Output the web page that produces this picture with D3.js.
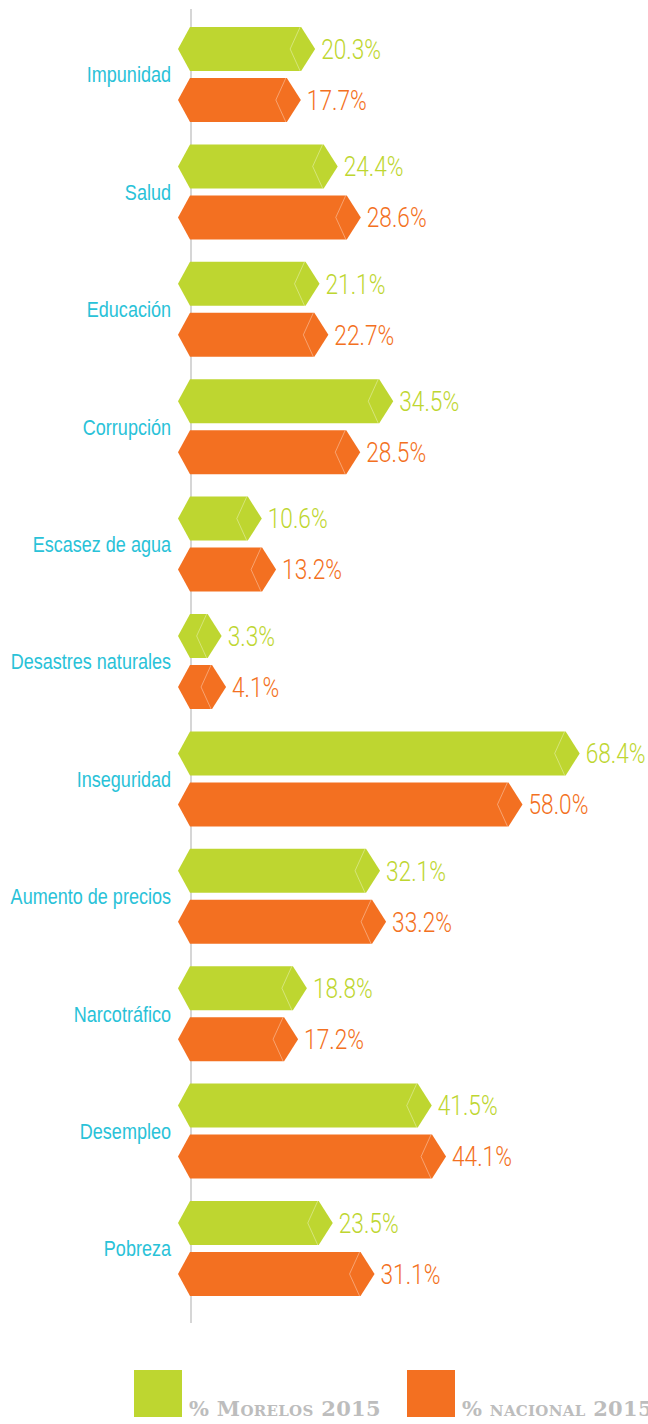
<!DOCTYPE html>
<html><head><meta charset="utf-8">
<script src="https://cdn.jsdelivr.net/npm/d3@7"></script>
<style>
html,body{margin:0;padding:0;background:#fff;overflow:hidden;}
svg{display:block;}
</style></head>
<body>
<script>
const categories = ["Impunidad","Salud","Educación","Corrupción","Escasez de agua","Desastres naturales","Inseguridad","Aumento de precios","Narcotráfico","Desempleo","Pobreza"];
const morelos = [20.3,24.4,21.1,34.5,10.6,3.3,68.4,32.1,18.8,41.5,23.5];
const nacional = [17.7,28.6,22.7,28.5,13.2,4.1,58.0,33.2,17.2,44.1,31.1];
const seriesNames = ["% Morelos 2015","% nacional 2015"];
const colors = {m:"#bed630", n:"#f37021"};

const W=648,H=1424;
const svg=d3.select("body").append("svg").attr("width",W).attr("height",H);

const x=d3.scaleLinear().domain([0,70]).range([203.5,203.5+70*5.5]);
const y0=d3.scaleBand().domain(categories).range([16,16+117.4*11]);
const y1=d3.scaleBand().domain(["m","n"]).range([11,106]).paddingInner(7/51);

const x0=178; // left tip
svg.append("line").attr("x1",191).attr("x2",191).attr("y1",9).attr("y2",1323)
  .attr("stroke","#c9c9c9").attr("stroke-width",1.5);

const data=categories.map((c,i)=>({cat:c,vals:[{k:"m",v:morelos[i]},{k:"n",v:nacional[i]}]}));

const g=svg.selectAll("g.cat").data(data).join("g").attr("class","cat")
  .attr("transform",d=>`translate(0,${y0(d.cat)})`);

g.append("text").attr("transform",`translate(171,${y0.bandwidth()/2}) scale(0.82,1)`)
  .attr("dy","0.35em")
  .attr("text-anchor","end").attr("fill","#29c2d8")
  .style("font-family","'Liberation Sans',Arial,sans-serif")
  .style("font-size","22px").text(d=>d.cat);

const b=g.selectAll("g.bar").data(d=>d.vals).join("g").attr("class","bar")
  .attr("transform",d=>`translate(0,${y1(d.k)})`);
const h=y1.bandwidth();
b.append("path").attr("fill",d=>colors[d.k]).attr("d",d=>{
  const t=x(d.v);
  return `M${x0},${h/2} L${x0+12},0 L${t-14},0 L${t},${h/2} L${t-14},${h} L${x0+12},${h} Z`;
});
b.append("path").attr("fill","none").attr("stroke","#ffffff").attr("stroke-opacity",0.45).attr("stroke-width",0.8)
  .attr("d",d=>{const t=x(d.v);return `M${t-15},0 L${t-25},${h/2} L${t-15},${h}`;});
b.append("text").attr("transform",d=>`translate(${x(d.v)+6},${h/2}) scale(0.84,1)`).attr("dy","0.36em")
  .attr("fill",d=>colors[d.k])
  .style("font-family","Roboto,sans-serif")
  .style("font-size","27px").style("font-weight","300")
  .text(d=>d.v.toFixed(1)+"%");

// legend
const leg=[{k:"m",x:134,label:seriesNames[0]},{k:"n",x:407,label:seriesNames[1]}];
const lg=svg.selectAll("g.leg").data(leg).join("g").attr("class","leg");
lg.append("rect").attr("x",d=>d.x).attr("y",1370).attr("width",48).attr("height",47).attr("fill",d=>colors[d.k]);
lg.append("text").attr("x",d=>d.x+55).attr("y",1416).attr("fill","#bdbdbd")
  .style("font-family","'DejaVu Serif',serif").style("font-weight","bold")
  .style("font-size","21px").style("font-variant","small-caps").style("letter-spacing","0.3px")
  .text(d=>d.label);
</script>
</body></html>
